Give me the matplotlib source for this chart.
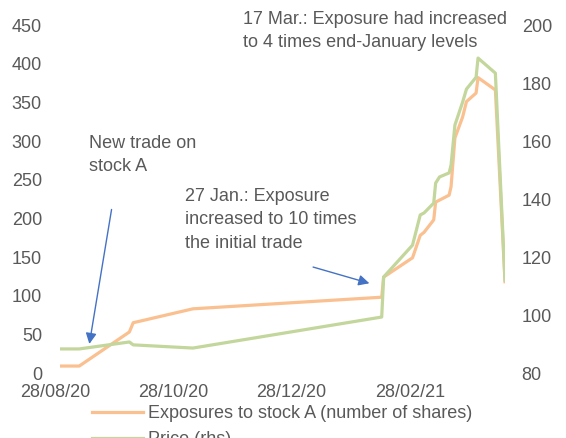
import pandas as pd
import matplotlib.pyplot as plt
import matplotlib.dates as mdates

plt.rcParams['font.family'] = ['Liberation Sans', 'DejaVu Sans']
plt.rcParams['font.size'] = 13

grey = '#595959'
orange = '#FAC090'
green = '#C3D69B'
blue = '#4472C4'

##### exposure to stock A (number of shares), left axis
exp_dates = ['2020-08-12', '2020-08-22', '2020-09-17', '2020-09-19', '2020-10-20',
             '2021-01-26', '2021-01-27', '2021-02-11', '2021-02-15', '2021-02-17',
             '2021-02-22', '2021-02-23', '2021-03-02', '2021-03-03', '2021-03-05',
             '2021-03-09', '2021-03-11', '2021-03-16', '2021-03-17', '2021-03-26',
             '2021-03-31']
exposure = [9, 9, 53, 65, 83,
            98, 124, 149, 178, 182,
            198, 221, 230, 241, 304,
            331, 351, 362, 382, 366,
            118]

##### price, right axis
price_dates = ['2020-08-12', '2020-08-22', '2020-09-17', '2020-09-19', '2020-10-20',
               '2021-01-26', '2021-01-27', '2021-02-11', '2021-02-15', '2021-02-17',
               '2021-02-22', '2021-02-23', '2021-02-25', '2021-03-02', '2021-03-03',
               '2021-03-05', '2021-03-09', '2021-03-11', '2021-03-16', '2021-03-17',
               '2021-03-26', '2021-03-31']
price = [88.3, 88.3, 90.7, 89.7, 88.6,
         99.3, 113.1, 124.1, 134.5, 135.2,
         138.6, 145.5, 147.6, 149.0, 151.7,
         165.5, 173.4, 177.9, 182.0, 188.6,
         183.4, 112.0]

x_ticks = ['2020-08-28', '2020-10-28', '2020-12-28', '2021-02-28']

exp_dates = pd.to_datetime(exp_dates)
price_dates = pd.to_datetime(price_dates)

W, H = 566, 438
fig = plt.figure(figsize=(W / 100, H / 100), dpi=100)
ax = fig.add_axes([60 / W, (H - 373) / H, 445 / W, 348 / H])
ax2 = ax.twinx()

l1, = ax.plot(exp_dates, exposure, color=orange, lw=2.3,
              label='Exposures to stock A (number of shares)')
l2, = ax2.plot(price_dates, price, color=green, lw=2.3, label='Price (rhs)')

ax.set_xlim(exp_dates[0], exp_dates[-1])
ax.set_ylim(0, 450)
ax.set_yticks(range(0, 451, 50))
ax2.set_ylim(80, 200)
ax2.set_yticks(range(80, 201, 20))

ax.set_xticks(pd.to_datetime(x_ticks))
ax.xaxis.set_major_formatter(mdates.DateFormatter('%d/%m/%y'))
for lab in ax.get_xticklabels():
    lab.set_ha('right')

for a in (ax, ax2):
    for s in a.spines.values():
        s.set_visible(False)
    a.tick_params(length=0, colors=grey, labelsize=13)
ax.tick_params(axis='y', pad=13)
ax.tick_params(axis='x', pad=8)
ax2.tick_params(axis='y', pad=12)

##### annotations
ax.annotate('', xy=(pd.Timestamp('2020-08-27'), 34), xytext=(pd.Timestamp('2020-09-08'), 215),
            arrowprops=dict(arrowstyle='-|>', color=blue, lw=1, mutation_scale=16))
ax.annotate('', xy=(pd.Timestamp('2021-01-21'), 115), xytext=(pd.Timestamp('2020-12-20'), 138),
            arrowprops=dict(arrowstyle='-|>', color=blue, lw=1, mutation_scale=16))

ax.text(pd.Timestamp('2020-08-27'), 282, 'New trade on\nstock A', color=grey,
        va='center', ha='left', linespacing=1.5)
ax.text(pd.Timestamp('2020-10-16'), 198, '27 Jan.: Exposure\nincreased to 10 times\nthe initial trade',
        color=grey, va='center', ha='left', linespacing=1.5)
ax.text(pd.Timestamp('2020-11-15'), 442, '17 Mar.: Exposure had increased\nto 4 times end-January levels',
        color=grey, va='center', ha='left', linespacing=1.5, clip_on=False)

fig.legend(handles=[l1, l2], loc='upper left', bbox_to_anchor=(92 / W, 1 - 405 / H),
           frameon=False, handlelength=2.8, handletextpad=0.3, labelspacing=0.5,
           borderpad=0, borderaxespad=0, labelcolor=grey, fontsize=13)

plt.savefig('out.png', dpi=100)
